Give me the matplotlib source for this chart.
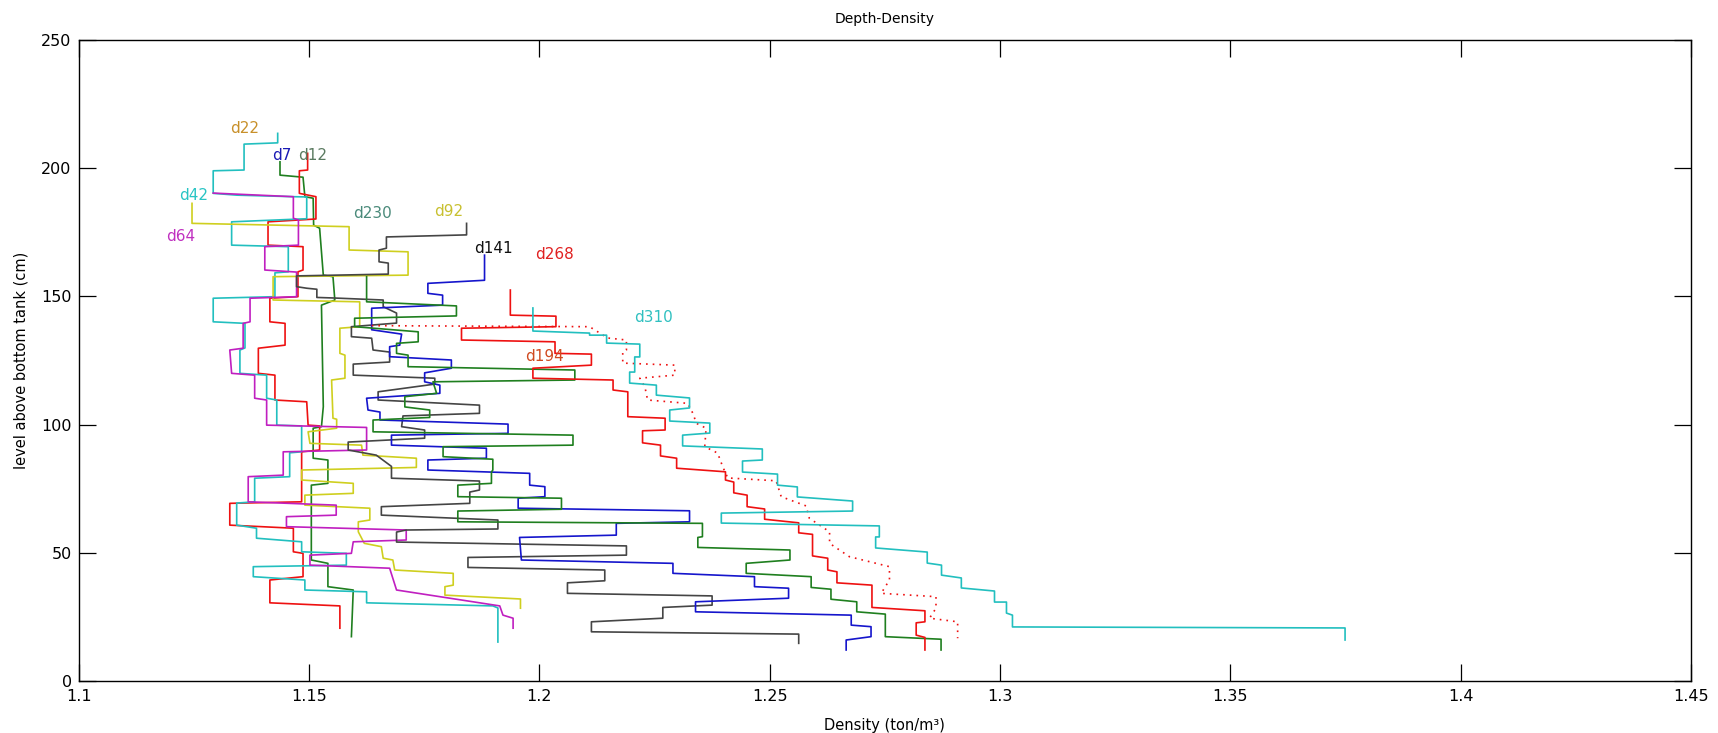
import numpy as np
import matplotlib
matplotlib.use("Agg")
import matplotlib.pyplot as plt

# (density ton/m3, level cm) vertices of each depth-density profile
d7 = [(1.1437,202.5),(1.1437,197.3),(1.1487,196.5),(1.1491,188.9),(1.1509,188.3),(1.1510,177.8),(1.1523,176.6),
      (1.1531,158.3),(1.1552,157.7),(1.1556,148.6),(1.1527,146.6),(1.1531,107.0),(1.1527,99.2),(1.1509,98.6),
      (1.1509,86.9),(1.1541,86.2),(1.1541,77.1),(1.1505,76.4),(1.1505,47.2),(1.1541,45.9),(1.1541,36.8),
      (1.1596,35.5),(1.1592,17.3)]
d12 = [(1.1497,205.8),(1.1497,199.3),(1.1479,199.0),(1.1479,190.2),(1.1515,188.9),(1.1515,180.2),(1.1411,179.1),
       (1.1411,170.0),(1.1487,169.4),(1.1487,160.3),(1.1476,159.6),(1.1476,149.9),(1.1415,149.3),(1.1415,140.1),
       (1.1448,139.5),(1.1448,131.0),(1.1390,129.8),(1.1390,120.0),(1.1426,119.3),(1.1426,109.6),(1.1495,108.9),
       (1.1498,99.8),(1.1523,99.5),(1.1523,90.1),(1.1484,89.4),(1.1484,69.9),(1.1328,69.3),(1.1328,60.8),
       (1.1466,59.6),(1.1466,50.4),(1.1487,49.8),(1.1487,40.7),(1.1415,39.4),(1.1415,30.5),(1.1567,29.3),
       (1.1567,20.6)]
d22 = [(1.1432,213.6),(1.1432,209.9),(1.1359,209.4),(1.1359,199.3),(1.1292,199.0),(1.1292,190.2),(1.1343,189.5),
       (1.1465,188.9),(1.1495,188.8),(1.1495,180.3),(1.1332,179.1),(1.1332,170.0),(1.1455,169.4),(1.1455,159.6),
       (1.1426,159.2),(1.1426,149.9),(1.1292,149.3),(1.1292,140.1),(1.1361,139.5),(1.1361,129.9),(1.1350,129.1),
       (1.1350,120.0),(1.1408,119.3),(1.1408,110.3),(1.1430,109.6),(1.1430,99.8),(1.1484,99.5),(1.1484,89.4),
       (1.1458,89.0),(1.1458,79.7),(1.1382,79.1),(1.1382,69.9),(1.1343,69.4),(1.1343,60.8),(1.1386,59.6),
       (1.1386,55.7),(1.1484,54.3),(1.1484,50.4),(1.1581,49.8),(1.1581,45.2),(1.1379,44.6),(1.1379,40.7),
       (1.1491,39.4),(1.1491,35.5),(1.1625,34.8),(1.1625,30.5),(1.1899,29.3),(1.1910,28.5),(1.1910,15.2)]
d42 = [(1.1246,186.3),(1.1246,178.5),(1.1587,177.2),(1.1587,168.1),(1.1715,167.4),(1.1715,158.3),(1.1422,157.7),
       (1.1422,148.6),(1.1610,147.9),(1.1610,138.2),(1.1567,137.6),(1.1567,127.8),(1.1578,127.1),(1.1578,118.1),
       (1.1549,117.4),(1.1552,102.5),(1.1560,102.1),(1.1560,98.6),(1.1498,97.2),(1.1502,92.7),(1.1614,92.0),
       (1.1617,88.1),(1.1733,86.9),(1.1733,83.3),(1.1484,82.3),(1.1484,78.4),(1.1596,77.1),(1.1596,73.2),
       (1.1491,72.5),(1.1491,68.6),(1.1632,67.4),(1.1632,62.8),(1.1607,62.1),(1.1607,58.2),(1.1620,53.7),
       (1.1657,52.4),(1.1661,47.9),(1.1682,47.2),(1.1686,43.3),(1.1813,42.0),(1.1813,37.4),(1.1795,36.8),
       (1.1795,33.5),(1.1959,32.0),(1.1959,28.4)]
d64 = [(1.1292,190.3),(1.1466,188.9),(1.1466,180.5),(1.1477,179.8),(1.1477,170.0),(1.1404,169.4),(1.1404,160.3),
       (1.1473,159.5),(1.1473,149.9),(1.1372,149.3),(1.1372,140.1),(1.1357,139.5),(1.1357,129.8),(1.1328,129.1),
       (1.1332,120.0),(1.1382,119.3),(1.1382,110.3),(1.1408,109.6),(1.1408,99.8),(1.1625,98.9),(1.1625,90.1),
       (1.1444,89.4),(1.1444,80.3),(1.1368,79.7),(1.1368,69.9),(1.1559,68.6),(1.1559,64.7),(1.1451,64.1),
       (1.1451,60.2),(1.1711,58.9),(1.1711,55.0),(1.1596,54.3),(1.1592,49.8),(1.1502,49.1),(1.1502,45.2),
       (1.1675,44.0),(1.1690,35.5),(1.1914,29.3),(1.1921,25.7),(1.1943,24.5),(1.1943,20.6)]
d92 = [(1.1842,178.5),(1.1842,174.0),(1.1668,173.2),(1.1668,168.8),(1.1652,168.1),(1.1652,163.5),(1.1672,163.0),
       (1.1672,158.7),(1.1473,158.0),(1.1473,153.8),(1.1495,153.2),(1.1517,152.8),(1.1517,149.6),(1.1552,149.4),
       (1.1661,148.6),(1.1661,146.0),(1.1690,143.5),(1.1690,139.6),(1.1592,138.2),(1.1592,134.3),(1.1636,133.7),
       (1.1639,129.1),(1.1675,128.3),(1.1675,124.4),(1.1596,123.6),(1.1596,119.3),(1.1773,118.1),(1.1773,115.8),
       (1.1650,112.8),(1.1650,109.6),(1.1870,107.6),(1.1870,104.4),(1.1704,103.4),(1.1701,99.2),(1.1751,97.9),
       (1.1751,94.7),(1.1585,93.2),(1.1585,90.1),(1.1646,88.1),(1.1679,83.7),(1.1679,79.1),(1.1870,78.0),
       (1.1870,74.5),(1.1849,73.7),(1.1849,69.3),(1.1657,68.0),(1.1657,64.7),(1.1910,62.8),(1.1910,59.3),
       (1.1711,58.9),(1.1690,58.1),(1.1690,54.2),(1.2189,52.7),(1.2189,49.1),(1.1845,48.2),(1.1845,44.3),
       (1.2142,43.3),(1.2142,39.1),(1.2061,38.3),(1.2061,34.2),(1.2375,33.2),(1.2375,29.6),(1.2268,28.7),
       (1.2268,24.5),(1.2113,23.1),(1.2113,19.2),(1.2563,18.3),(1.2563,14.7)]
d141 = [(1.1881,166.1),(1.1881,156.3),(1.1758,155.1),(1.1758,151.2),(1.1790,150.5),(1.1790,146.6),(1.1636,145.4),
        (1.1636,137.0),(1.1701,135.3),(1.1697,131.0),(1.1675,130.4),(1.1675,126.5),(1.1809,125.2),(1.1809,122.0),
        (1.1751,120.2),(1.1751,116.7),(1.1784,115.4),(1.1784,112.2),(1.1625,110.3),(1.1628,105.7),(1.1654,104.9),
        (1.1654,101.8),(1.1932,100.2),(1.1932,96.6),(1.1679,95.9),(1.1679,92.0),(1.1885,90.8),(1.1885,86.9),
        (1.1758,86.2),(1.1758,82.3),(1.1979,81.0),(1.1979,76.4),(1.2012,75.8),(1.2012,71.9),(1.1954,71.3),
        (1.1954,67.4),(1.2326,66.4),(1.2326,62.1),(1.2167,61.5),(1.2167,56.9),(1.1957,56.0),(1.1961,47.2),
        (1.2290,45.9),(1.2290,42.0),(1.2467,40.7),(1.2467,36.8),(1.2541,36.2),(1.2541,32.3),(1.2339,30.9),
        (1.2339,27.0),(1.2677,25.7),(1.2677,21.8),(1.2720,21.2),(1.2720,17.3),(1.2666,16.0),(1.2666,12.1)]
d230 = [(1.1625,157.7),(1.1625,147.9),(1.1820,146.3),(1.1820,142.4),(1.1599,141.5),(1.1599,138.2),(1.1737,136.2),
        (1.1737,132.3),(1.1690,131.7),(1.1690,127.8),(1.1715,127.1),(1.1715,122.6),(1.2077,121.3),(1.2077,117.4),
        (1.1769,116.7),(1.1777,112.2),(1.1708,110.9),(1.1708,106.9),(1.1762,105.7),(1.1762,102.8),(1.1639,101.8),
        (1.1639,97.2),(1.2073,95.9),(1.2073,92.0),(1.1791,91.4),(1.1791,87.5),(1.1899,86.5),(1.1899,82.3),
        (1.1896,81.5),(1.1896,77.1),(1.1823,76.4),(1.1823,71.9),(1.2048,71.3),(1.2048,67.0),(1.1823,66.3),
        (1.1823,62.1),(1.2354,61.5),(1.2354,56.3),(1.2344,56.0),(1.2344,52.1),(1.2544,51.1),(1.2544,47.2),
        (1.2449,45.9),(1.2449,42.0),(1.2590,40.7),(1.2590,36.5),(1.2633,35.8),(1.2633,31.9),(1.2689,30.9),
        (1.2689,27.0),(1.2751,26.1),(1.2751,17.3),(1.2872,16.3),(1.2872,12.1)]
d194 = [(1.1937,152.5),(1.1937,142.7),(1.2036,142.3),(1.2036,138.2),(1.1831,137.6),(1.1831,133.0),(1.2034,132.3),
        (1.2034,127.8),(1.2113,127.5),(1.2113,123.2),(1.1986,122.0),(1.1986,118.1),(1.2160,117.4),(1.2160,113.5),
        (1.2192,112.8),(1.2192,103.1),(1.2273,102.5),(1.2273,97.9),(1.2224,97.6),(1.2224,92.9),(1.2263,92.0),
        (1.2263,87.8),(1.2298,86.9),(1.2298,83.0),(1.2404,81.6),(1.2404,78.4),(1.2422,77.6),(1.2422,73.4),
        (1.2451,72.5),(1.2451,68.0),(1.2489,67.1),(1.2489,63.1),(1.2563,61.7),(1.2563,57.8),(1.2593,57.2),
        (1.2593,48.8),(1.2626,47.9),(1.2626,43.3),(1.2646,42.6),(1.2646,38.3),(1.2722,37.4),(1.2722,28.7),
        (1.2837,27.4),(1.2837,23.1),(1.2818,22.7),(1.2818,17.9),(1.2837,17.0),(1.2837,12.1)]
d268 = [(1.1636,138.6),(1.2109,138.2),(1.2148,133.8),(1.2189,133.0),(1.2189,129.1),(1.2181,128.3),(1.2181,124.0),
        (1.2294,123.2),(1.2294,119.3),(1.2218,118.1),(1.2229,114.8),(1.2235,109.6),(1.2322,108.3),(1.2333,104.5),
        (1.2341,100.5),(1.2362,98.6),(1.2359,91.4),(1.2387,88.9),(1.2398,83.6),(1.2409,79.2),(1.2514,78.1),
        (1.2525,71.9),(1.2579,68.3),(1.2586,63.5),(1.2630,58.2),(1.2630,53.7),(1.2673,48.5),(1.2760,44.6),
        (1.2760,39.4),(1.2742,34.2),(1.2861,32.9),(1.2861,28.4),(1.2847,24.5),(1.2908,23.1),(1.2908,16.7)]
d310 = [(1.1986,145.5),(1.1986,136.5),(1.2109,135.7),(1.2109,134.9),(1.2146,134.9),(1.2146,131.8),(1.2218,131.4),
        (1.2218,126.4),(1.2207,126.4),(1.2207,120.5),(1.2196,120.5),(1.2196,116.2),(1.2254,115.4),(1.2254,111.5),
        (1.2326,110.4),(1.2326,106.5),(1.2283,105.7),(1.2283,101.4),(1.2370,100.6),(1.2370,96.7),(1.2311,95.9),
        (1.2311,91.7),(1.2484,90.5),(1.2484,86.2),(1.2441,85.8),(1.2441,81.5),(1.2517,80.7),(1.2517,76.4),
        (1.2560,75.7),(1.2560,71.8),(1.2680,70.2),(1.2680,66.3),(1.2395,65.5),(1.2395,61.6),(1.2738,60.5),
        (1.2738,56.2),(1.2730,56.2),(1.2730,51.9),(1.2842,50.3),(1.2842,46.0),(1.2873,45.2),(1.2873,41.3),
        (1.2916,40.2),(1.2916,36.3),(1.2988,35.1),(1.2988,30.8),(1.3014,30.8),(1.3014,26.5),(1.3027,25.7),
        (1.3027,21.1),(1.3749,20.7),(1.3749,16.0)]

# label text, position (density, level)
labels = ['d22', 'd7', 'd12', 'd42', 'd64', 'd230', 'd92', 'd141', 'd268', 'd194', 'd310']
label_x = [1.1361, 1.1442, 1.1507, 1.1250, 1.1222, 1.1637, 1.1804, 1.1901, 1.2032, 1.2011, 1.2248]
label_y = [215.6, 204.9, 204.9, 189.5, 173.3, 182.3, 183.1, 168.6, 166.5, 126.7, 141.7]
label_colors = ['#c8902a', '#1a1ab4', '#5a7a60', '#28c4c4', '#c030c0', '#4a8a7a',
                '#c8c030', '#101010', '#e02020', '#d04a20', '#30c0c0']

# line styles by profile
profiles = [
    (d7, '#1f7f1f', '-'),
    (d12, '#ee1111', '-'),
    (d22, '#22bfbf', '-'),
    (d42, '#cfcf1f', '-'),
    (d64, '#c01fc0', '-'),
    (d92, '#454545', '-'),
    (d141, '#1515cc', '-'),
    (d230, '#1f7f1f', '-'),
    (d194, '#ee1111', '-'),
    (d268, '#ee1111', ':'),
    (d310, '#22bfbf', '-'),
]

plt.rcParams['font.family'] = ['DejaVu Sans']

fig = plt.figure(figsize=(17.18, 7.33), dpi=100)
ax = fig.add_axes([0.0458, 0.0709, 0.9385, 0.8745])

for pts, col, ls in profiles:
    arr = np.array(pts)
    line, = ax.plot(arr[:, 0], arr[:, 1], color=col, linestyle=ls, lw=1.2)
    if ls == ':':
        line.set_dashes((1, 3))

for txt, x, y, c in zip(labels, label_x, label_y, label_colors):
    ax.text(x, y, txt, color=c, fontsize=11, ha='center', va='center')

ax.set_xlim(1.1, 1.45)
ax.set_ylim(0, 250)
ax.set_xticks([1.1, 1.15, 1.2, 1.25, 1.3, 1.35, 1.4, 1.45])
ax.set_xticklabels(['1.1', '1.15', '1.2', '1.25', '1.3', '1.35', '1.4', '1.45'])
ax.set_yticks([0, 50, 100, 150, 200, 250])
ax.tick_params(direction='in', length=12, width=0.9, top=True, right=True, labelsize=11.5)
ax.tick_params(axis='x', pad=6)
ax.tick_params(axis='y', pad=5)
for s in ax.spines.values():
    s.set_linewidth(1.0)

ax.set_title('Depth-Density', fontsize=10, pad=12)
ax.set_xlabel('Density (ton/m³)', fontsize=10.5, labelpad=10)
ax.set_ylabel('level above bottom tank (cm)', fontsize=10.5, labelpad=9)

plt.savefig('out.png', dpi=100)
